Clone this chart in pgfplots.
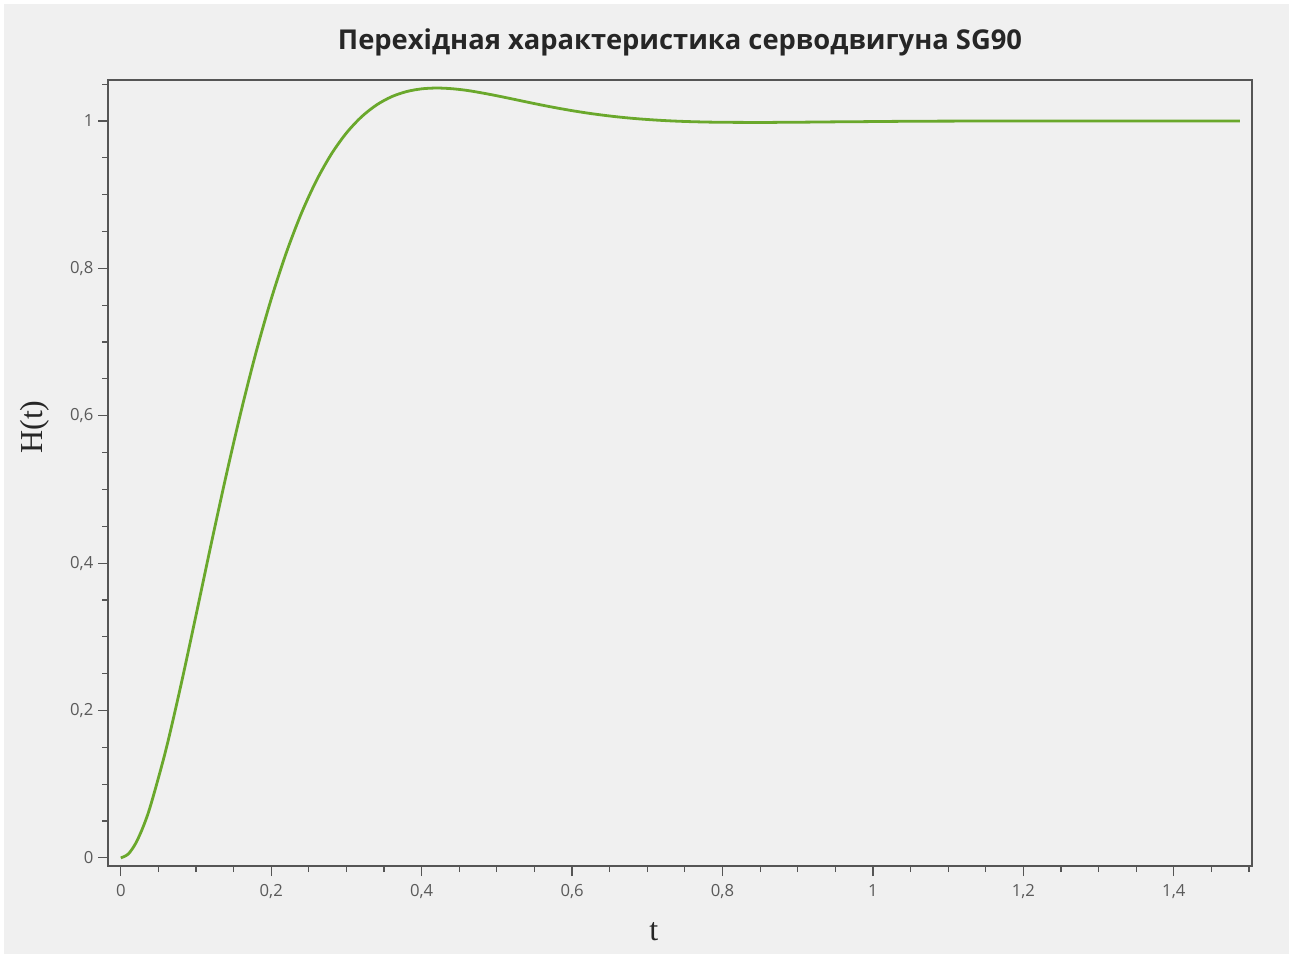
\documentclass[border=0pt]{standalone}
\usepackage{fontspec}
\usepackage{pgfplots}
\pgfplotsset{compat=1.18}
\setmainfont{Open Sans}
\newfontfamily\labelfont{Liberation Serif}
\definecolor{bg}{HTML}{F0F0F0}
\definecolor{curve}{RGB}{106,168,44}
\definecolor{axc}{HTML}{555555}
\definecolor{tickc}{HTML}{5A5A5A}
\begin{document}
\begin{tikzpicture}
\fill[white] (0,0) rectangle (969.75pt,718.5pt);
\fill[bg] (3pt,3pt) rectangle (966.75pt,715.5pt);
\begin{axis}[
  at={(81pt,69pt)}, anchor=south west,
  scale only axis, width=858pt, height=589.5pt,
  xmin=-0.017, xmax=1.504, ymin=-0.011, ymax=1.0556,
  axis background/.style={fill=none},
  axis line style={axc, line width=1.1pt},
  xtick={0,0.2,0.4,0.6,0.8,1,1.2,1.4},
  ytick={0,0.2,0.4,0.6,0.8,1},
  minor xtick={0.05,0.1,0.15,0.25,0.3,0.35,0.45,0.5,0.55,0.65,0.7,0.75,0.85,0.9,0.95,1.05,1.1,1.15,1.25,1.3,1.35,1.45,1.5},
  minor ytick={0.05,0.1,0.15,0.25,0.3,0.35,0.45,0.5,0.55,0.65,0.7,0.75,0.85,0.9,0.95,1.05},
  xtick pos=bottom, ytick pos=left,
  tick align=outside,
  major tick length=7.5pt, minor tick length=4.5pt,
  every tick/.style={axc, line width=0.9pt},
  /pgf/number format/use comma,
  /pgf/number format/assume math mode=true,
  tick label style={font=\fontsize{12.5}{14}\selectfont, text=tickc},
  xticklabel style={yshift=-3pt},
  title={Перехідная характеристика серводвигуна SG90},
  title style={at={(0.5,1)}, anchor=center, yshift=22.5pt, font=\bfseries\fontsize{20.5}{24}\selectfont, text=black!85},
  xlabel={t},
  xlabel style={at={(0.477,-0.084)}, anchor=center, font=\labelfont\fontsize{24}{28}\selectfont, text=black!85},
  ylabel={H(t)},
  ylabel style={at={(-0.0638,0.5585)}, anchor=center, font=\labelfont\fontsize{24}{28}\selectfont, text=black!85},
]
\addplot[curve, line width=2.1pt, smooth] coordinates {
(0,0) (0.01,0.0053) (0.02,0.0201) (0.03,0.0428) (0.04,0.0724) (0.06,0.1467) (0.08,0.2346)
(0.10,0.3292) (0.12,0.4252) (0.14,0.5185) (0.16,0.6063) (0.18,0.6867)
(0.20,0.7584) (0.22,0.8210) (0.24,0.8744) (0.26,0.9189) (0.28,0.9551)
(0.30,0.9837) (0.32,1.0056) (0.34,1.0217) (0.36,1.0329) (0.38,1.0399)
(0.40,1.0436) (0.42,1.0447) (0.44,1.0438) (0.46,1.0415) (0.48,1.0381)
(0.50,1.0342) (0.52,1.0300) (0.54,1.0257) (0.56,1.0215) (0.58,1.0176)
(0.60,1.0140) (0.62,1.0108) (0.64,1.0080) (0.66,1.0056) (0.68,1.0036)
(0.70,1.0020) (0.72,1.0007) (0.74,0.9997) (0.76,0.9990) (0.78,0.9985)
(0.80,0.9982) (0.82,0.9981) (0.84,0.9980) (0.86,0.9980) (0.88,0.9982)
(0.90,0.9983) (0.92,0.9985) (0.94,0.9987) (0.96,0.9989) (0.98,0.9990)
(1.00,0.9992) (1.05,0.9996) (1.10,0.9998) (1.15,0.9999) (1.20,1.0000)
(1.30,1.0000) (1.40,1.0000) (1.488,1.0000)
};
\end{axis}
\end{tikzpicture}
\end{document}
